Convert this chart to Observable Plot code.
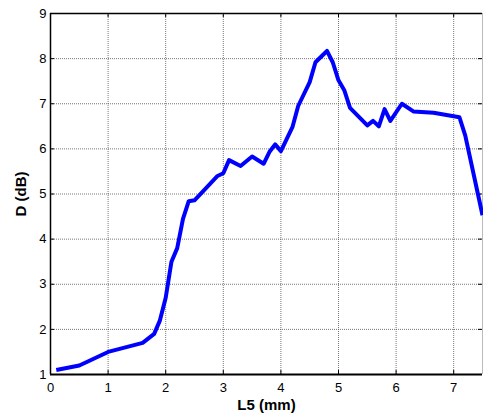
<!DOCTYPE html>
<html>
<head>
<meta charset="utf-8">
<script src="https://cdn.jsdelivr.net/npm/d3@7"></script>
<script src="https://cdn.jsdelivr.net/npm/@observablehq/plot@0.6"></script>
<style>
  html, body { margin: 0; padding: 0; background: #fff; }
  svg { display: block; }
  g[aria-label="x-axis label"] text, g[aria-label="y-axis label"] text { font-weight: bold; font-size: 15px; }
</style>
</head>
<body>
<div id="chart"></div>
<script>
const L5 = [0.1, 0.5, 1.0, 1.6, 1.8, 1.9, 2.0, 2.1, 2.2, 2.3, 2.4, 2.5, 2.9, 3.0, 3.1, 3.3, 3.5, 3.7, 3.8, 3.9, 4.0, 4.2, 4.3, 4.5, 4.6, 4.8, 4.9, 5.0, 5.1, 5.2, 5.5, 5.6, 5.7, 5.8, 5.9, 6.1, 6.3, 6.65, 7.1, 7.2, 7.5];
const D  = [1.1, 1.2, 1.5, 1.7, 1.9, 2.2, 2.7, 3.5, 3.8, 4.45, 4.84, 4.86, 5.4, 5.46, 5.75, 5.62, 5.83, 5.67, 5.93, 6.1, 5.95, 6.48, 6.95, 7.48, 7.92, 8.17, 7.92, 7.52, 7.3, 6.91, 6.52, 6.62, 6.5, 6.88, 6.62, 7.0, 6.83, 6.8, 6.7, 6.3, 4.53];
const xTicks = [0, 1, 2, 3, 4, 5, 6, 7];
const yTicks = [1, 2, 3, 4, 5, 6, 7, 8, 9];

const data = L5.map((x, i) => ({x, y: D[i]}));

const W = 483, H = 415, mL = 50, mR = 1, mT = 13, mB = 41;
const fw = W - mL - mR, fh = H - mT - mB, tk = 4;

const chart = Plot.plot({
  width: W, height: H,
  marginLeft: mL, marginRight: mR, marginTop: mT, marginBottom: mB,
  style: {fontFamily: "Arial, 'Liberation Sans', sans-serif", fontSize: "13px", color: "#000", background: "#fff"},
  x: {domain: [0, 7.5]},
  y: {domain: [1, 9]},
  marks: [
    Plot.gridX(xTicks, {stroke: "#555", strokeOpacity: 0.8, strokeDasharray: "1,1"}),
    Plot.gridY(yTicks, {stroke: "#555", strokeOpacity: 0.8, strokeDasharray: "1,1"}),
    Plot.tickX(xTicks, {x: d => d, insetTop: fh - tk, stroke: "#000"}),
    Plot.tickX(xTicks, {x: d => d, insetBottom: fh - tk, stroke: "#000"}),
    Plot.tickY(yTicks, {y: d => d, insetRight: fw - tk, stroke: "#000"}),
    Plot.tickY(yTicks, {y: d => d, insetLeft: fw - tk, stroke: "#000"}),
    Plot.ruleX([7.5], {stroke: "#bbb", strokeWidth: 1}),
    Plot.ruleY([9], {stroke: "#000", strokeWidth: 1.5}),
    Plot.ruleX([0], {stroke: "#000", strokeWidth: 1.5}),
    Plot.ruleY([1], {stroke: "#000", strokeWidth: 2}),
    Plot.line(data, {x: "x", y: "y", stroke: "#0000ff", strokeWidth: 4, strokeLinejoin: "round", strokeLinecap: "butt"}),
    Plot.axisX(xTicks, {tickSize: 0, tickPadding: 8, label: "L5 (mm)", labelAnchor: "center", labelOffset: 35, labelArrow: "none", fontSize: 13}),
    Plot.axisY(yTicks, {tickSize: 0, tickPadding: 4, label: "D (dB)", labelAnchor: "center", labelOffset: 35, labelArrow: "none", fontSize: 13})
  ]
});
document.getElementById("chart").appendChild(chart);
</script>
</body>
</html>
